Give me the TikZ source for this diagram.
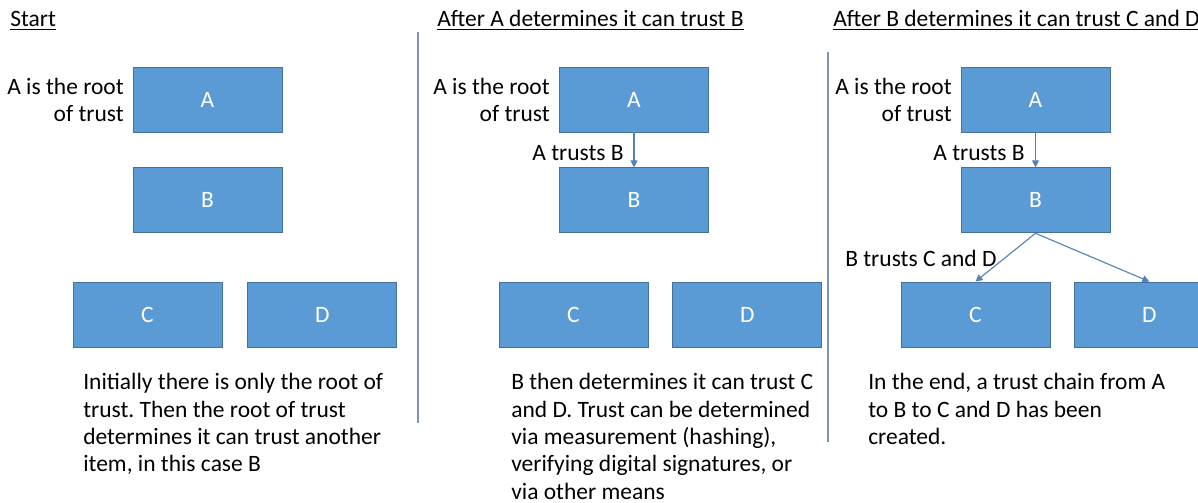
\documentclass[tikz,border=0pt]{standalone}
\usepackage{fontspec}
\setmainfont{Carlito}
\usetikzlibrary{arrows.meta,positioning}
\definecolor{boxblue}{RGB}{91,155,213}
\definecolor{boxedge}{RGB}{65,113,156}
\definecolor{linkblue}{RGB}{84,130,180}
\definecolor{rulegray}{RGB}{128,148,178}
\frenchspacing

\begin{document}
\begin{tikzpicture}[
  x=0.025cm, y=-0.025cm,
  every node/.style={font=\fontsize{16.7}{19.5}\selectfont},
  item/.style={draw=boxedge, line width=0.6pt, fill=boxblue, text=white, minimum width=3.725cm, minimum height=1.625cm, inner sep=0pt},
  note/.style={align=left, anchor=north west, inner sep=0pt},
  tag/.style={align=right, anchor=east, inner sep=0pt},
  title/.style={anchor=base west, inner sep=0pt},
  link/.style={-{Triangle[width=5pt,length=5pt]}, linkblue, line width=0.8pt},
  rule/.style={rulegray, line width=1.1pt},
  node distance=0.875cm
]
\clip (0,0) rectangle (1198,503);

% panel 1
\node[title] (h1) at (10,27) {\underline{Start}};
\node[item] (a1) at (207.5,99.5) {A};
\node[item, below=of a1] (b1) {B};
\node[item] (c1) at (147.5,314.5) {C};
\node[item, right=0.625cm of c1] (d1) {D};
\node[tag] (r1) at (124,100) {A is the root\\of trust};
\node[note] (n1) at (83,373) {Initially there is only the root of\\trust. Then the root of trust\\determines it can trust another\\item, in this case B};

% panel 2
\node[title] (h2) at (437,27) {\underline{After A determines it can trust B}};
\node[item] (a2) at (634,99.5) {A};
\node[item, below=of a2] (b2) {B};
\node[item] (c2) at (573.5,314.5) {C};
\node[item, right=0.6cm of c2] (d2) {D};
\node[tag] (r2) at (550,100) {A is the root\\of trust};
\node[tag] (t2) at (624,153) {A trusts B};
\node[note] (n2) at (511,373) {B then determines it can trust C\\and D. Trust can be determined\\via measurement (hashing),\\verifying digital signatures, or\\via other means};
\draw[link] (a2) -- (b2);

% panel 3
\node[title] (h3) at (833,27) {\underline{After B determines it can trust C and D}};
\node[item] (a3) at (1035.5,99.5) {A};
\node[item, below=of a3] (b3) {B};
\node[item] (c3) at (975.5,314.5) {C};
\node[item, right=0.6cm of c3] (d3) {D};
\node[tag] (r3) at (952,100) {A is the root\\of trust};
\node[tag] (t3) at (1025,153) {A trusts B};
\node[tag, anchor=west] (u3) at (845,258) {B trusts C and D};
\node[note] (n3) at (868,373) {In the end, a trust chain from A\\to B to C and D has been\\created.};
\draw[link] (a3) -- (b3);
\foreach \x in {c3, d3}
  \draw[link] (b3.south) -- (\x.north);

% dividers
\draw[rule] (418,32) -- (418,423);
\draw[rule] (828,52) -- (828,442);
\end{tikzpicture}
\end{document}
